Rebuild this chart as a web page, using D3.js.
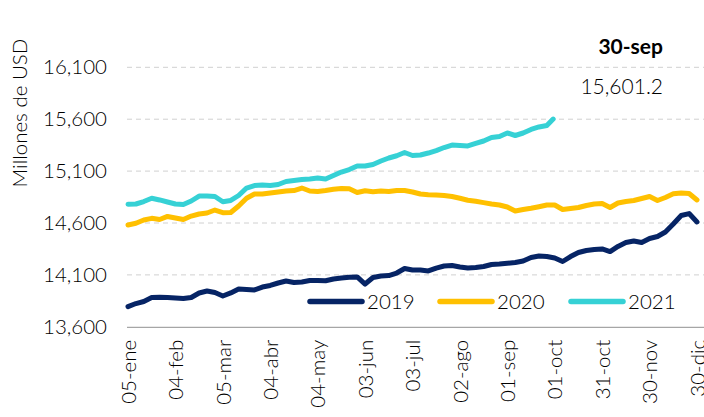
<!DOCTYPE html>
<html>
<head>
<meta charset="utf-8">
<script src="https://cdn.jsdelivr.net/npm/d3@7"></script>
<style>
    body { margin: 0; background: #fff; }
    svg { font-family: Lato, "Open Sans", sans-serif; font-weight: 300; }
</style>
</head>
<body>
<svg id="chart"></svg>
<script>
// fechas (eje de dias del año, cada 5 dias)
const fechas = [
    '2020-01-05','2020-01-10','2020-01-15','2020-01-20','2020-01-25','2020-01-30',
    '2020-02-04','2020-02-09','2020-02-14','2020-02-19','2020-02-24','2020-02-29',
    '2020-03-05','2020-03-10','2020-03-15','2020-03-20','2020-03-25','2020-03-30',
    '2020-04-04','2020-04-09','2020-04-14','2020-04-19','2020-04-24','2020-04-29',
    '2020-05-04','2020-05-09','2020-05-14','2020-05-19','2020-05-24','2020-05-29',
    '2020-06-03','2020-06-08','2020-06-13','2020-06-18','2020-06-23','2020-06-28',
    '2020-07-03','2020-07-08','2020-07-13','2020-07-18','2020-07-23','2020-07-28',
    '2020-08-02','2020-08-07','2020-08-12','2020-08-17','2020-08-22','2020-08-27',
    '2020-09-01','2020-09-06','2020-09-11','2020-09-16','2020-09-21','2020-09-26',
    '2020-10-01','2020-10-06','2020-10-11','2020-10-16','2020-10-21','2020-10-26',
    '2020-10-31','2020-11-05','2020-11-10','2020-11-15','2020-11-20','2020-11-25',
    '2020-11-30','2020-12-05','2020-12-10','2020-12-15','2020-12-20','2020-12-25',
    '2020-12-30'
];

const serie2019 = [
    13794, 13824, 13844, 13882, 13884, 13882, 13877, 13873, 13882, 13926, 13945, 13930,
    13897, 13926, 13964, 13959, 13955, 13983, 13998, 14022, 14041, 14027, 14032, 14046,
    14046, 14044, 14061, 14070, 14077, 14080, 14012, 14075, 14090, 14094, 14118, 14162,
    14147, 14147, 14138, 14166, 14186, 14191, 14176, 14166, 14171, 14181, 14200, 14205,
    14212, 14219, 14234, 14268, 14282, 14277, 14263, 14229, 14277, 14316, 14335, 14345,
    14350, 14325, 14374, 14412, 14427, 14412, 14451, 14470, 14513, 14590, 14672, 14691,
    14610
];

const serie2020 = [
    14581, 14597, 14629, 14645, 14634, 14663, 14648, 14634, 14667, 14687, 14696, 14725,
    14699, 14701, 14764, 14838, 14879, 14879, 14889, 14899, 14908, 14913, 14937, 14908,
    14903, 14913, 14925, 14932, 14929, 14894, 14911, 14902, 14908, 14903, 14913, 14913,
    14899, 14879, 14873, 14870, 14865, 14855, 14838, 14819, 14809, 14796, 14783, 14773,
    14754, 14716, 14730, 14742, 14757, 14773, 14773, 14730, 14740, 14749, 14769, 14783,
    14788, 14749, 14793, 14807, 14817, 14836, 14855, 14817, 14846, 14881, 14889, 14884,
    14822
];

// 2021 hasta el 26-sep, mas el ultimo dato
const serie2021 = [
    14781, 14783, 14807, 14838, 14822, 14802, 14783, 14778, 14812, 14860, 14860, 14855,
    14805, 14817, 14865, 14937, 14961, 14966, 14961, 14971, 15000, 15009, 15019, 15024,
    15033, 15024, 15058, 15091, 15115, 15149, 15149, 15164, 15197, 15226, 15248, 15279,
    15250, 15255, 15274, 15298, 15327, 15351, 15347, 15342, 15366, 15390, 15424, 15433,
    15467, 15443, 15467, 15501, 15525, 15539
];
const ultimaFecha = '2020-09-30';
const ultimoValor = 15601.2;

const tickFechas = [
    '2020-01-05','2020-02-04','2020-03-05','2020-04-04','2020-05-04','2020-06-03',
    '2020-07-03','2020-08-02','2020-09-01','2020-10-01','2020-10-31','2020-11-30','2020-12-30'
];
const yTicks = [13600, 14100, 14600, 15100, 15600, 16100];
const nombres = ['2019', '2020', '2021'];
const colores = ['#062465', '#FFC000', '#36D1D5'];

const es = d3.timeFormatLocale({
    dateTime: '%x, %X', date: '%d/%m/%Y', time: '%H:%M:%S', periods: ['AM', 'PM'],
    days: ['domingo','lunes','martes','miércoles','jueves','viernes','sábado'],
    shortDays: ['dom','lun','mar','mié','jue','vie','sáb'],
    months: ['enero','febrero','marzo','abril','mayo','junio','julio','agosto','septiembre','octubre','noviembre','diciembre'],
    shortMonths: ['ene','feb','mar','abr','may','jun','jul','ago','sep','oct','nov','dic']
});
const fmtFecha = es.format('%d-%b');
const parse = d3.timeParse('%Y-%m-%d');

function draw() {
    var width = 704, height = 417;
    var left = 128, right = 697, top = 67.3, bottom = 326.8;
    var fs = 20.5;
    var ink = '#000';

    const svg = d3.select('#chart').attr('width', width).attr('height', height);

    var xs = d3.scaleTime().domain([parse(fechas[0]), parse(fechas[fechas.length - 1])]).range([left, right]);
    var ys = d3.scaleLinear().domain([13600, 16100]).range([bottom, top]);

    // grid
    svg.append('g').selectAll('line')
        .data(yTicks.slice(1)).enter().append('line')
        .attr('x1', left - 1).attr('x2', 704)
        .attr('y1', d => ys(d)).attr('y2', d => ys(d))
        .attr('stroke', '#d0d0d0').attr('stroke-width', 1)
        .attr('stroke-dasharray', '5,4');

    // y axis labels
    const yAxis = svg.append('g')
        .attr('transform', `translate(${left - 1},0)`)
        .call(d3.axisLeft(ys).tickValues(yTicks).tickFormat(d3.format(',')).tickSize(0).tickPadding(20));
    yAxis.select('.domain').remove();
    yAxis.selectAll('text').attr('font-size', fs).attr('fill', ink).attr('font-family', 'Lato');

    // x axis
    const xAxis = svg.append('g')
        .attr('transform', `translate(0,${bottom})`)
        .call(d3.axisBottom(xs).tickValues(tickFechas.map(parse)).tickFormat(fmtFecha).tickSize(0).tickPadding(0));
    xAxis.select('.domain').attr('d', `M${left - 1},0.5H704`).attr('stroke', '#a6a6a6').attr('stroke-width', 1.2);
    xAxis.selectAll('text')
        .attr('font-size', fs).attr('fill', ink).attr('font-family', 'Lato')
        .attr('transform', 'rotate(-90)')
        .attr('text-anchor', 'end')
        .attr('x', -13).attr('y', 0).attr('dy', '0.35em');

    // titulo eje
    svg.append('text')
        .attr('transform', `translate(27,113) rotate(-90)`)
        .attr('text-anchor', 'middle')
        .attr('font-size', fs).attr('fill', ink)
        .text('Millones de USD');

    // series
    const datos2021 = serie2021.map((v, i) => ({ fecha: parse(fechas[i]), valor: v }));
    datos2021.push({ fecha: parse(ultimaFecha), valor: ultimoValor });
    const series = [
        serie2019.map((v, i) => ({ fecha: parse(fechas[i]), valor: v })),
        serie2020.map((v, i) => ({ fecha: parse(fechas[i]), valor: v })),
        datos2021
    ];

    const line = d3.line().x(d => xs(d.fecha)).y(d => ys(d.valor));

    svg.append('g').selectAll('path')
        .data(series).enter().append('path')
        .attr('d', line)
        .attr('fill', 'none')
        .attr('stroke', (d, i) => colores[i])
        .attr('stroke-width', 5)
        .attr('stroke-linejoin', 'round')
        .attr('stroke-linecap', 'round');

    // leyenda
    const legendX = [310, 440, 571];
    const legend = svg.selectAll('.legend')
        .data(nombres).enter().append('g')
        .attr('class', 'legend')
        .attr('transform', (d, i) => `translate(${legendX[i]},301.5)`);

    legend.append('line')
        .attr('x1', 0).attr('x2', 52)
        .attr('stroke', (d, i) => colores[i])
        .attr('stroke-width', 5.5)
        .attr('stroke-linecap', 'round');

    legend.append('text')
        .attr('x', 57).attr('y', 0).attr('dy', '0.35em')
        .attr('font-size', fs).attr('fill', ink)
        .text(d => d);

    // anotacion ultimo dato
    svg.append('text')
        .attr('x', 663).attr('y', 54)
        .attr('text-anchor', 'end')
        .attr('font-size', 21).attr('font-weight', 'bold').attr('fill', ink)
        .text(fmtFecha(parse(ultimaFecha)));

    svg.append('text')
        .attr('x', 663).attr('y', 94)
        .attr('text-anchor', 'end')
        .attr('font-size', 21).attr('fill', ink)
        .text(d3.format(',.1f')(ultimoValor));
}

draw();
</script>
</body>
</html>
